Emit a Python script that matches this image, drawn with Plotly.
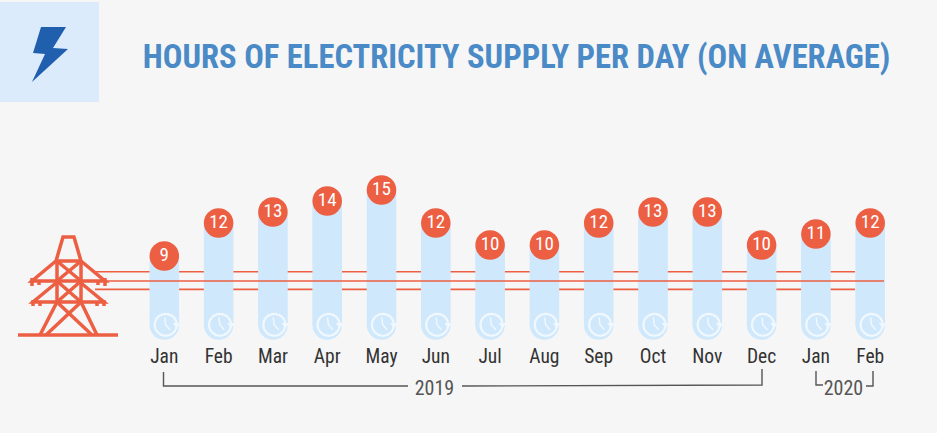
import plotly.graph_objects as go

months = ["Jan", "Feb", "Mar", "Apr", "May", "Jun", "Jul", "Aug", "Sep", "Oct", "Nov", "Dec", "Jan", "Feb"]
hours = [9, 12, 13, 14, 15, 12, 10, 10, 12, 13, 13, 10, 11, 12]
title_text = "HOURS OF ELECTRICITY SUPPLY PER DAY (ON AVERAGE)"

W, H = 937, 433
PLOT_BOTTOM = 342
RED = "#ec5f43"
BAR = "#cfe8fb"
GREY = "#555555"

# axis scales: 54.3px per month, 11px per hour
X_STEP = 54.3
X0 = 164.3
Y_STEP = 11.0
Y0 = 355.0
xs = list(range(len(months)))


def pxx(p):
    return p / W


def pxy(p):
    return (PLOT_BOTTOM - p) / PLOT_BOTTOM


def path(points):
    return "M" + " L".join(f"{pxx(a):.5f},{pxy(b):.5f}" for a, b in points)


def line_shape(points, color, width, layer="above"):
    return dict(type="path", xref="paper", yref="paper", path=path(points),
                line=dict(color=color, width=width), layer=layer)


base_hour = (Y0 - 325) / Y_STEP
clock_hour = (Y0 - 324.8) / Y_STEP

fig = go.Figure()

# bars, bottom end rounded by a circle behind the clock
fig.add_trace(go.Bar(x=xs, y=[h - base_hour for h in hours], base=base_hour, width=0.545,
                     marker=dict(color=BAR, line_width=0)))
fig.add_trace(go.Scatter(x=xs, y=[base_hour] * len(xs), mode="markers",
                         marker=dict(color=BAR, size=29.5, line_width=0)))

# clock icons
fig.add_trace(go.Scatter(x=[i + 1.4 / X_STEP for i in xs], y=[clock_hour] * len(xs), mode="markers",
                         marker=dict(symbol="circle-open", color="#f0f8fe", size=22, line=dict(width=2.2))))
fig.add_trace(go.Scatter(x=[i + 12.5 / X_STEP for i in xs], y=[clock_hour] * len(xs), mode="markers",
                         marker=dict(symbol="triangle-down", color="#f0f8fe", size=7, line_width=0)))
hand_x, hand_y = [], []
for i in xs:
    cx = i + 1.2 / X_STEP
    hand_x += [cx - 0.8 / X_STEP, cx, cx + 4.5 / X_STEP, None]
    hand_y += [clock_hour + 7.5 / Y_STEP, clock_hour, clock_hour - 5 / Y_STEP, None]
fig.add_trace(go.Scatter(x=hand_x, y=hand_y, mode="lines", line=dict(color="#f0f8fe", width=1.5)))

# value bubbles
fig.add_trace(go.Scatter(x=xs, y=hours, mode="markers+text", text=[str(h) for h in hours],
                         textposition="middle center",
                         textfont=dict(family="Roboto", size=19, color="white"),
                         marker=dict(color=RED, size=29.5, line_width=0)))

tower = [
    [(18, 335), (118, 335)],
    [(56, 261), (63, 237), (74, 237), (81, 261), (56, 261), (32, 281), (105, 281), (81, 261)],
    [(56, 283), (33, 302), (104, 302), (81, 283)],
    [(57, 261), (57, 302)], [(81, 261), (81, 302)],
    [(57, 261), (81, 281)], [(81, 261), (57, 281)],
    [(57, 281), (81, 302)], [(81, 281), (57, 302)],
    [(57, 302), (40, 335)], [(81, 302), (97, 335)],
    [(57, 302), (92, 335)], [(81, 302), (46, 335)],
    [(32, 278), (32, 286)], [(39, 281), (39, 285)], [(105, 278), (105, 286)], [(98, 281), (98, 285)],
    [(33, 300), (33, 306)], [(40, 302), (40, 306)], [(104, 300), (104, 306)], [(97, 302), (97, 306)],
]

shapes = [
    # header icon
    dict(type="rect", xref="paper", yref="paper", x0=pxx(0), x1=pxx(99), y0=pxy(2), y1=pxy(102),
         fillcolor="#dcebfb", line_width=0, layer="below"),
    dict(type="path", xref="paper", yref="paper",
         path=path([(41, 27), (66, 27), (53, 48), (68, 49), (32, 82), (45, 54), (33, 53)]) + " Z",
         fillcolor="#1f5fae", line_width=0),
    # power lines
    line_shape([(95, 271.7), (855, 271.7)], RED, 1.6, "below"),
    line_shape([(95, 289.4), (855, 289.4)], RED, 1.6, "below"),
    line_shape([(97, 281), (884, 281)], RED, 1.6),
    # year brackets
    line_shape([(163.5, 372), (163.5, 386), (408, 386)], GREY, 1.4),
    line_shape([(462, 386), (762, 385), (762, 369)], GREY, 1.4),
    line_shape([(816, 371), (816, 385), (823, 385)], GREY, 1.4),
    line_shape([(866, 386), (873, 386), (873, 371)], GREY, 1.4),
]
shapes += [line_shape(seg, RED, 3.5) for seg in tower]

annotations = [
    dict(text=title_text, xref="paper", yref="paper", x=pxx(516), y=pxy(57), showarrow=False,
         xanchor="center", yanchor="middle",
         font=dict(family="Roboto", size=32.6, color="#4a8ac6", weight="bold")),
    dict(text="2019", xref="paper", yref="paper", x=pxx(434), y=pxy(388), showarrow=False,
         xanchor="center", yanchor="middle", font=dict(family="Roboto", size=20, color=GREY)),
    dict(text="2020", xref="paper", yref="paper", x=pxx(843), y=pxy(388), showarrow=False,
         xanchor="center", yanchor="middle", font=dict(family="Roboto", size=20, color=GREY)),
]

fig.update_layout(
    width=W, height=H,
    margin=dict(l=0, r=0, t=0, b=H - PLOT_BOTTOM, autoexpand=False),
    paper_bgcolor="#f6f6f6", plot_bgcolor="rgba(0,0,0,0)",
    showlegend=False, hovermode=False,
    shapes=shapes, annotations=annotations,
    xaxis=dict(range=[-X0 / X_STEP, (W - X0) / X_STEP], tickmode="array", tickvals=xs, ticktext=months,
               showgrid=False, zeroline=False, showline=False, ticks="",
               tickfont=dict(family="Roboto", size=19.5, color="#333333")),
    yaxis=dict(range=[(Y0 - PLOT_BOTTOM) / Y_STEP, Y0 / Y_STEP], visible=False),
)

# page margin off, and the condensed cut of Roboto for all texts
post = """
document.body.style.margin = '0';
document.querySelectorAll('text').forEach(function (t) { t.style.fontStretch = '75%'; });
"""
fig.write_html("out.html", post_script=post, config=dict(displayModeBar=False))
